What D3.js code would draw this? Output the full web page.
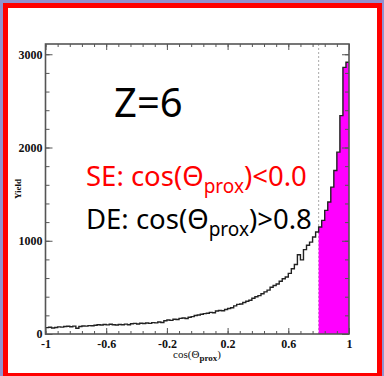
<!DOCTYPE html>
<html>
<head>
<meta charset="UTF-8">
<script src="https://d3js.org/d3.v7.min.js"></script>
<style>
  body { margin: 0; background: #9292cf; }
  .tick text { font-family: "Liberation Serif", serif; font-weight: bold; font-size: 12px; fill: #111; }
  .tick line { stroke: #555; }
</style>
</head>
<body>
<svg width="384" height="376"></svg>
<script>
// histogram of cos(theta_prox), 100 bins of 0.02 from -1 to 1
var binLow = -1, binWidth = 0.02;
var counts = [
  68, 72, 64, 70, 76, 74, 80, 83, 78, 84,
  62, 80, 86, 84, 90, 88, 94, 100, 96, 102,
  98, 104, 100, 96, 102, 99, 106, 100, 110, 114,
  108, 116, 112, 118, 114, 122, 119, 128, 124, 142,
  150, 146, 158, 156, 168, 172, 166, 180, 186, 198,
  204, 212, 218, 222, 232, 228, 246, 252, 250, 262,
  274, 282, 302, 318, 322, 338, 352, 362, 384, 400,
  412, 432, 452, 470, 502, 520, 536, 566, 592, 612,
  650, 700, 745, 850, 795, 905, 952, 985, 1040, 1094,
  1148, 1219, 1326, 1415, 1575, 1754, 1950, 2342, 2859, 2914
];
var cutDE = 0.8;
var xTickLabels = [-1, -0.6, -0.2, 0.2, 0.6, 1];
var yTickLabels = [0, 1000, 2000, 3000];

var svg = d3.select("svg");

// slide frame
svg.append("rect").attr("x", 5.5).attr("y", 5.5).attr("width", 374).attr("height", 370)
  .attr("fill", "#fff").attr("stroke", "#f00").attr("stroke-width", 5);

var pL = 45.5, pR = 349, pT = 44, pB = 334;
var x = d3.scaleLinear().domain([-1, 1]).range([pL, pR]);
var y = d3.scaleLinear().domain([0, 3110]).range([pB, pT]);

var bins = counts.map(function(c, i) {
  return { x0: binLow + i * binWidth, x1: binLow + (i + 1) * binWidth, n: c };
});

// dotted line at the DE cut
svg.append("line")
  .attr("x1", x(cutDE)).attr("x2", x(cutDE))
  .attr("y1", pT).attr("y2", pB)
  .attr("stroke", "#aaa").attr("stroke-width", 1).attr("stroke-dasharray", "2,2");

// magenta region
var sel = bins.filter(function(d) { return d.x0 >= cutDE - 1e-9; });
var area = d3.area()
  .curve(d3.curveStepAfter)
  .x(function(d) { return x(d.x); })
  .y0(y(0))
  .y1(function(d) { return y(d.n); });
var selPts = sel.map(function(d) { return { x: d.x0, n: d.n }; });
selPts.push({ x: 1, n: sel[sel.length - 1].n });
svg.append("path").datum(selPts).attr("d", area).attr("fill", "#ff00ff");

// outline
var pts = bins.map(function(d) { return { x: d.x0, n: d.n }; });
pts.push({ x: 1, n: counts[counts.length - 1] });
svg.append("path").datum(pts)
  .attr("d", d3.line().curve(d3.curveStepAfter)
    .x(function(d) { return x(d.x); })
    .y(function(d) { return y(d.n); }))
  .attr("fill", "none").attr("stroke", "#222").attr("stroke-width", 1.4);

// axes, ticks pointing inward
var xMinor = d3.range(-1, 1.0001, 0.08);
var yMinor = d3.range(0, 3101, 200);

svg.append("g").attr("transform", "translate(0," + pB + ")")
  .call(d3.axisBottom(x).tickValues(xMinor).tickSize(-3).tickFormat(""))
  .call(function(g) { g.select(".domain").remove(); });
svg.append("g").attr("transform", "translate(0," + pB + ")")
  .call(d3.axisBottom(x).tickValues(xTickLabels).tickSizeInner(-6).tickSizeOuter(0).tickPadding(5)
    .tickFormat(function(d) { return d; }))
  .call(function(g) { g.select(".domain").remove(); });
svg.append("g").attr("transform", "translate(0," + pT + ")")
  .call(d3.axisTop(x).tickValues(xMinor).tickSize(-3).tickFormat(""))
  .call(function(g) { g.select(".domain").remove(); });
svg.append("g").attr("transform", "translate(0," + pT + ")")
  .call(d3.axisTop(x).tickValues(xTickLabels).tickSize(-6).tickFormat(""))
  .call(function(g) { g.select(".domain").remove(); });

svg.append("g").attr("transform", "translate(" + pL + ",0)")
  .call(d3.axisLeft(y).tickValues(yMinor).tickSize(-4).tickFormat(""))
  .call(function(g) { g.select(".domain").remove(); });
svg.append("g").attr("transform", "translate(" + pL + ",0)")
  .call(d3.axisLeft(y).tickValues(yTickLabels).tickSizeInner(-7).tickSizeOuter(0).tickPadding(3)
    .tickFormat(function(d) { return d; }))
  .call(function(g) { g.select(".domain").remove(); });
svg.append("g").attr("transform", "translate(" + pR + ",0)")
  .call(d3.axisRight(y).tickValues(yMinor).tickSize(-4).tickFormat(""))
  .call(function(g) { g.select(".domain").remove(); });
svg.append("g").attr("transform", "translate(" + pR + ",0)")
  .call(d3.axisRight(y).tickValues(yTickLabels).tickSize(-7).tickFormat(""))
  .call(function(g) { g.select(".domain").remove(); });

// frame
svg.append("rect").attr("x", pL).attr("y", pT)
  .attr("width", pR - pL).attr("height", pB - pT)
  .attr("fill", "none").attr("stroke", "#555").attr("stroke-width", 1.6);

// axis titles
var xt = svg.append("text").attr("x", 197).attr("y", 358).attr("text-anchor", "middle")
  .attr("font-family", "Liberation Serif, serif").attr("font-size", 11).attr("fill", "#111");
xt.append("tspan").text("cos(\u0398");
xt.append("tspan").attr("font-size", 9).attr("font-weight", "bold").attr("dy", 3).text("prox");
xt.append("tspan").attr("dy", -3).text(")");

svg.append("text").attr("transform", "translate(21,189) rotate(-90)")
  .attr("text-anchor", "middle")
  .attr("font-family", "Liberation Serif, serif").attr("font-weight", "bold")
  .attr("font-size", 9).attr("fill", "#111").text("Yield");

// annotations
svg.append("text").attr("x", 114).attr("y", 117)
  .attr("font-family", "Noto Sans, sans-serif").attr("font-size", 40).attr("fill", "#000")
  .text("Z=6");

function cutLabel(txt1, txt2, yy, col) {
  var t = svg.append("text").attr("x", 86).attr("y", yy)
    .attr("font-family", "Noto Sans, sans-serif").attr("font-size", 27.5).attr("fill", col);
  t.append("tspan").text(txt1);
  t.append("tspan").attr("font-size", 19).attr("dy", 7).text("prox");
  t.append("tspan").attr("dy", -7).text(txt2);
}
cutLabel("SE: cos(\u0398", ")<0.0", 186, "#ff0000");
cutLabel("DE: cos(\u0398", ")>0.8", 229, "#000");
</script>
</body>
</html>
